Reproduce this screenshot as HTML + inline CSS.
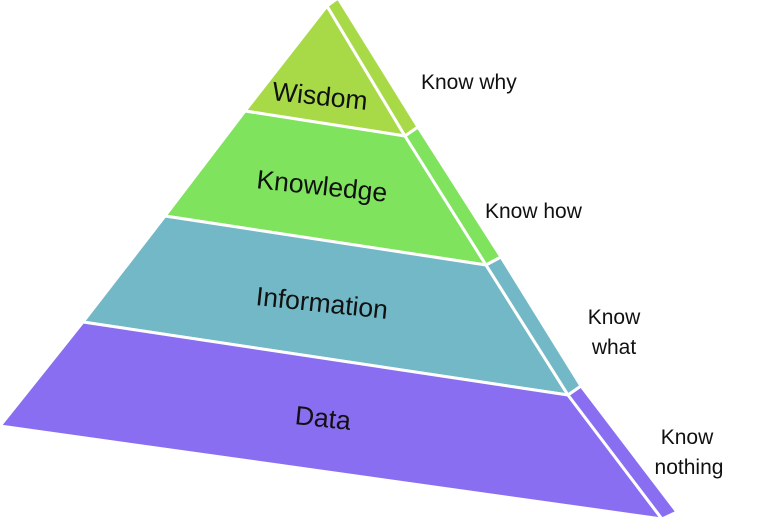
<!DOCTYPE html>
<html><head><meta charset="utf-8"><style>
html,body{margin:0;padding:0;background:#fff;width:768px;height:520px;overflow:hidden}
svg{display:block}
text{font-family:"Liberation Sans",sans-serif;fill:#111}
</style></head><body>
<svg width="768" height="520" viewBox="0 0 768 520">
<g stroke="#fff" stroke-width="3" stroke-linejoin="round">
<polygon points="327,6 405,136 245,111" fill="#a8da48"/>
<polygon points="245,111 405,136 486,265 165,216" fill="#7fe35e"/>
<polygon points="165,216 486,265 568,395 83,322" fill="#73b8c6"/>
<polygon points="83,322 568,395 662,519 0,426" fill="#8a6ef2"/>
<polygon points="327,6 338,-2 418,127 405,136" fill="#a8da48"/>
<polygon points="405,136 418,127 501,257 486,265" fill="#7fe35e"/>
<polygon points="486,265 501,257 581,386 568,395" fill="#73b8c6"/>
<polygon points="568,395 581,386 677,512 662,519" fill="#8a6ef2"/>
</g>
<text x="320" y="105" font-size="26.5" text-anchor="middle" transform="rotate(6 320 96)">Wisdom</text>
<text x="322" y="195" font-size="26.5" text-anchor="middle" transform="rotate(6 322 186)">Knowledge</text>
<text x="322" y="312" font-size="26.5" text-anchor="middle" transform="rotate(6 322 303)">Information</text>
<text x="323" y="427" font-size="26.5" text-anchor="middle" transform="rotate(6 323 418)">Data</text>
<text x="421" y="89" font-size="21">Know why</text>
<text x="485" y="218" font-size="21">Know how</text>
<text x="614" y="324" font-size="21" text-anchor="middle">Know</text>
<text x="614" y="354" font-size="21" text-anchor="middle">what</text>
<text x="687" y="444" font-size="21" text-anchor="middle">Know</text>
<text x="689" y="474" font-size="21" text-anchor="middle">nothing</text>
</svg>
</body></html>
